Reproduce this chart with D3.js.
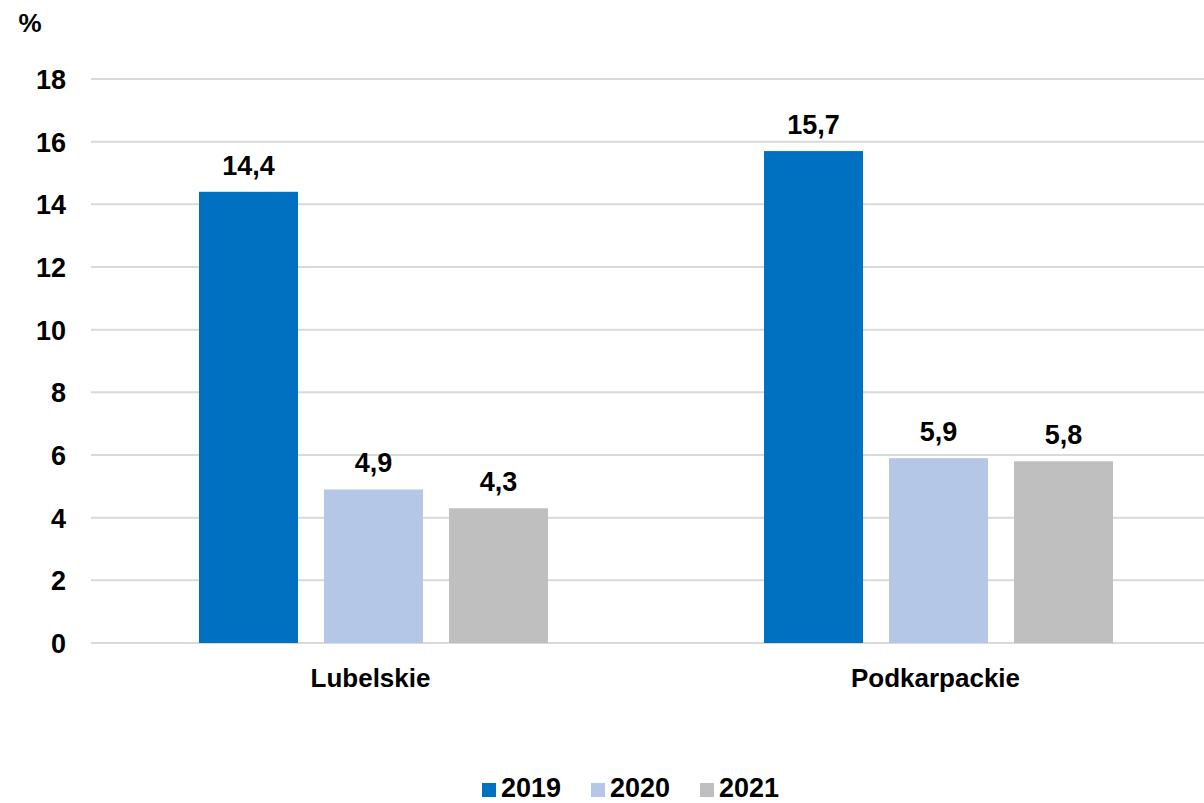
<!DOCTYPE html>
<meta charset="utf-8">
<script src="https://d3js.org/d3.v7.min.js"></script>
<style>
  body { margin: 0; background: #fff; }
  text { font-family: "Liberation Sans", Arial, sans-serif; font-weight: bold; fill: #000; }
</style>
<div id="chart"></div>
<script>
    // dane
    const regions = ["Lubelskie", "Podkarpackie"];
    const years = ["2019", "2020", "2021"];
    const values2019 = [14.4, 15.7];
    const values2020 = [4.9, 5.9];
    const values2021 = [4.3, 5.8];
    const yTicks = [0, 2, 4, 6, 8, 10, 12, 14, 16, 18];
    const colors = ["#0070c0", "#b4c7e7", "#bfbfbf"];

    const series = [values2019, values2020, values2021];
    const data = regions.map((r, i) => ({
        region: r,
        vals: years.map((y, j) => ({ year: y, value: series[j][i] }))
    }));

    const W = 1204, H = 803;
    const svg = d3.select("#chart")
        .append("svg")
            .attr("width", W)
            .attr("height", H);

    // skale
    const y = d3.scaleLinear()
        .domain([0, 18])
        .range([643, 79]);

    const x0 = d3.scaleBand()
        .domain(regions)
        .range([91, 1221]);

    const x1 = d3.scaleBand()
        .domain(years)
        .range([0, x0.bandwidth()])
        .paddingInner(0.208)
        .paddingOuter(0.864);

    // siatka
    svg.append("g")
        .selectAll("line")
        .data(yTicks)
        .join("line")
            .attr("x1", 91)
            .attr("x2", 1221)
            .attr("y1", d => y(d))
            .attr("y2", d => y(d))
            .attr("stroke", "#d9d9d9")
            .attr("stroke-width", 2);

    // oś Y
    const yAxis = svg.append("g")
        .attr("transform", "translate(66,0)")
        .call(d3.axisLeft(y).tickValues(yTicks).tickSize(0).tickPadding(0));
    yAxis.select(".domain").remove();
    yAxis.selectAll("text")
        .attr("font-size", 27)
        .attr("dy", "0.35em");
    yAxis.attr("font-family", null);

    svg.append("text")
        .attr("x", 30)
        .attr("y", 32)
        .attr("text-anchor", "middle")
        .attr("font-size", 26)
        .text("%");

    // słupki
    const groups = svg.append("g")
        .selectAll("g")
        .data(data)
        .join("g")
            .attr("transform", d => `translate(${x0(d.region)},0)`);

    groups.selectAll("rect")
        .data(d => d.vals)
        .join("rect")
            .attr("x", d => x1(d.year))
            .attr("y", d => y(d.value))
            .attr("width", x1.bandwidth())
            .attr("height", d => y(0) - y(d.value))
            .attr("fill", (d, i) => colors[i]);

    groups.selectAll("text.lbl")
        .data(d => d.vals)
        .join("text")
            .attr("class", "lbl")
            .attr("x", d => x1(d.year) + x1.bandwidth() / 2)
            .attr("y", d => y(d.value) - 17)
            .attr("text-anchor", "middle")
            .attr("font-size", 27)
            .text(d => String(d.value).replace(".", ","));

    // oś X
    svg.append("g")
        .selectAll("text")
        .data(regions)
        .join("text")
            .attr("x", d => x0(d) + x0.bandwidth() / 2 - 3)
            .attr("y", 687)
            .attr("text-anchor", "middle")
            .attr("font-size", 26)
            .text(d => d);

    // legenda
    const legend = svg.append("g")
        .selectAll("g")
        .data(years)
        .join("g")
            .attr("transform", (d, i) => `translate(${482 + i * 109},0)`);
    legend.append("rect")
        .attr("x", 0)
        .attr("y", 783)
        .attr("width", 14)
        .attr("height", 14)
        .attr("fill", (d, i) => colors[i]);
    legend.append("text")
        .attr("x", 19)
        .attr("y", 797)
        .attr("font-size", 27)
        .text(d => d);
</script>
